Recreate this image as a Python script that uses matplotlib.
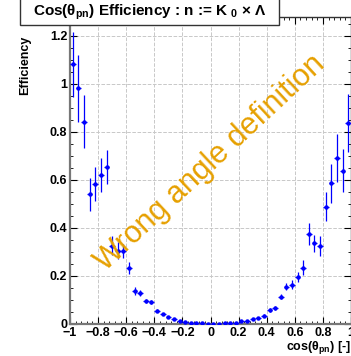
import numpy as np
import matplotlib
matplotlib.use('Agg')
import matplotlib.pyplot as plt
from matplotlib.patches import Rectangle
from matplotlib.ticker import MultipleLocator, FuncFormatter

plt.rcParams['font.family'] = ['Liberation Sans', 'DejaVu Sans']
plt.rcParams['mathtext.fontset'] = 'custom'
plt.rcParams['mathtext.rm'] = 'Liberation Sans:bold'
plt.rcParams['mathtext.it'] = 'Liberation Sans:bold'
plt.rcParams['mathtext.bf'] = 'Liberation Sans:bold'

# cos(theta_pn) bin centres, 50 bins of width 0.04
bin_centres = np.arange(-0.98, 1.0, 0.04)
efficiency = [1.082, 0.982, 0.843, 0.540, 0.582, 0.621, 0.654, 0.326, 0.305, 0.304,
              0.235, 0.1375, 0.130, 0.097, 0.092, 0.056, 0.040, 0.028, 0.019, 0.014,
              0.009, 0.006, 0.004, 0.003, 0.002, 0.002, 0.002, 0.003, 0.004, 0.006,
              0.011, 0.014, 0.020, 0.027, 0.035, 0.058, 0.065, 0.114, 0.156, 0.164,
              0.197, 0.235, 0.375, 0.336, 0.325, 0.489, 0.586, 0.690, 0.639, 0.836]
eff_err = [0.135, 0.14, 0.11, 0.07, 0.07, 0.07, 0.072, 0.04, 0.035, 0.03,
           0.025, 0.015, 0.012, 0.008, 0.007, 0.005, 0.004, 0.003, 0.002, 0.002,
           0.001, 0.001, 0.001, 0.001, 0.001, 0.001, 0.001, 0.001, 0.001, 0.001,
           0.002, 0.002, 0.003, 0.004, 0.005, 0.007, 0.008, 0.010, 0.015, 0.018,
           0.020, 0.030, 0.045, 0.036, 0.043, 0.060, 0.080, 0.100, 0.090, 0.120]
bin_half = 0.02

fig = plt.figure(figsize=(3.51, 3.56), dpi=100)
ax = fig.add_axes([70 / 351, 1 - 324 / 356, 281 / 351, (324 - 16.7) / 356])

ax.errorbar(bin_centres, efficiency, yerr=eff_err, xerr=bin_half, fmt='o',
            color='blue', ms=2.2, elinewidth=0.9, capsize=0, zorder=3)

ax.set_xlim(-1, 1)
ax.set_ylim(0, 1.28)
ax.xaxis.set_major_locator(MultipleLocator(0.2))
ax.xaxis.set_minor_locator(MultipleLocator(0.04))
ax.yaxis.set_major_locator(MultipleLocator(0.2))
ax.yaxis.set_minor_locator(MultipleLocator(0.05))


def root_fmt(v, pos):
    if abs(v) < 1e-9:
        return '0'
    return ('%g' % round(v, 2)).replace('-', '\u2212')


ax.xaxis.set_major_formatter(FuncFormatter(root_fmt))
ax.yaxis.set_major_formatter(FuncFormatter(root_fmt))
ax.tick_params(which='both', direction='in', top=True, right=True,
               labelsize=9, pad=2)
ax.tick_params(which='major', length=5)
ax.tick_params(which='minor', length=2.5)
for lab in ax.get_xticklabels() + ax.get_yticklabels():
    lab.set_fontweight('bold')
for sp in ax.spines.values():
    sp.set_color('#333333')
    sp.set_linewidth(1.0)
ax.spines['left'].set_color('#777777')
ax.spines['left'].set_linewidth(1.6)
ax.spines['bottom'].set_color('#777777')
ax.spines['bottom'].set_linewidth(1.6)
ax.grid(True, which='major', color='#c8c8c8', linestyle='--', linewidth=0.7)
ax.set_axisbelow(True)

# watermark across the plot
ax.text(0.0, 0.67, 'Wrong angle definition', color='#E6A000', fontsize=22,
        rotation=43, rotation_mode='anchor', ha='center', va='center', zorder=4)

ax.set_xlabel(r'cos($\theta_{pn}$) [-]', fontsize=9, fontweight='bold',
              ha='right', x=1.0, labelpad=0)
fig.text(25 / 351, 1 - 36 / 356, 'Efficiency', rotation=90, fontsize=9,
         fontweight='bold', ha='center', va='top')

# title box
fig.patches.append(Rectangle((20 / 351, 1 - 25 / 356), 259 / 351, 30 / 356,
                             transform=fig.transFigure, facecolor='white',
                             edgecolor='#333333', linewidth=1.0, zorder=5))
fig.text(150 / 351, 1 - 12 / 356,
         'Cos(θ$_{pn}$) Efficiency : n := K ${}_{0}$ × Λ', fontsize=11,
         fontweight='bold', ha='center', va='center', zorder=6)

fig.savefig('out.png', dpi=100)
